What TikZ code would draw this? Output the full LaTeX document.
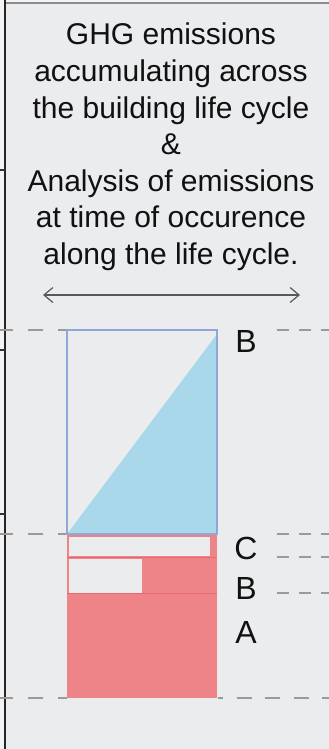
\documentclass[tikz,border=0pt]{standalone}
\usepackage{fontspec}
\setmainfont{Liberation Sans}
\usetikzlibrary{arrows.meta}
\definecolor{bg}{HTML}{EBECEE}
\definecolor{bgl}{HTML}{F3F3F4}
\definecolor{blueline}{HTML}{8FA8D8}
\definecolor{bluefill}{HTML}{A9D8EA}
\definecolor{redfill}{HTML}{EE8488}
\definecolor{redline}{HTML}{E86A70}
\definecolor{dashgray}{HTML}{9A9A9A}
\definecolor{txt}{HTML}{111111}
\tikzset{
  guide/.style={draw=dashgray, line width=2pt, dash pattern=on 15pt off 15pt},
  guider/.style={draw=dashgray, line width=2pt, dash pattern=on 12pt off 10pt},
  ttl/.style={font=\fontsize{30}{36.6}\selectfont, text=txt, inner sep=0pt},
  lbl/.style={font=\fontsize{32}{36}\selectfont, text=txt, inner sep=0pt},
  tick/.style={draw=black!80, line width=1.2pt},
}
\begin{document}
\begin{tikzpicture}[x=1pt,y=-1pt]
\useasboundingbox (0,0) rectangle (329,749);
\fill[bgl] (0,0) rectangle (329,749);
\fill[bg] (5,3) rectangle (329,749);
% frame
\draw[draw=black!45, line width=2pt] (5,3) -- (329,3);
\draw[draw=black!85, line width=2.2pt] (5,0) -- (5,749);
\draw[tick] (0,170) -- (5,170);
\draw[tick] (0,350) -- (5,350);
\draw[tick] (0,514) -- (5,514);
% title
\node[ttl, align=center, anchor=north] (title) at (171,23)
  {GHG emissions\\accumulating across\\the building life cycle\\\&\\Analysis of emissions\\at time of occurence\\along the life cycle.};
% double arrow
\coordinate (al) at (43,295);
\coordinate (ar) at (300,295);
\draw[draw=black!65, line width=1.2pt, {Straight Barb[length=9pt,width=15pt]}-{Straight Barb[length=9pt,width=15pt]}] (al) -- (ar);
% dashed guides left
\draw[guide, dash phase=6pt] (67,330) -- (0,330);
\draw[guide, dash phase=6pt] (67,534) -- (0,534);
\draw[guide, dash phase=6pt] (67,698) -- (0,698);
% dashed guides right
\draw[guider] (277,330) -- (329,330);
\draw[guider] (277,534) -- (329,534);
\draw[guider] (277,557) -- (329,557);
\draw[guider] (277,593) -- (329,593);
\draw[draw=dashgray, line width=2pt, dash pattern=on 15pt off 13.5pt, dash phase=10pt] (218,698) -- (329,698);
% blue part
\fill[bluefill] (67,534) -- (217,334) -- (217,534) -- cycle;
\draw[draw=blueline, line width=1.5pt] (67,330) rectangle (217,534);
% red part
\fill[redfill] (67,534.8) rectangle (217,698);
\fill[bg] (68.5,536.5) rectangle (210,555.5);
\fill[bg] (68.5,559) rectangle (142,592.5);
\draw[draw=redline, line width=1.2pt] (67,557.2) -- (217,557.2);
\draw[draw=redline, line width=1.5pt] (67,593.5) -- (217,593.5);
\draw[draw=blueline, line width=1.5pt] (67,534) -- (217,534);
% labels
\node[lbl] (lB1) at (246,341.5) {B};
\node[lbl] (lC) at (246,548) {C};
\node[lbl] (lB2) at (246,588) {B};
\node[lbl] (lA) at (246,632) {A};
\end{tikzpicture}
\end{document}
